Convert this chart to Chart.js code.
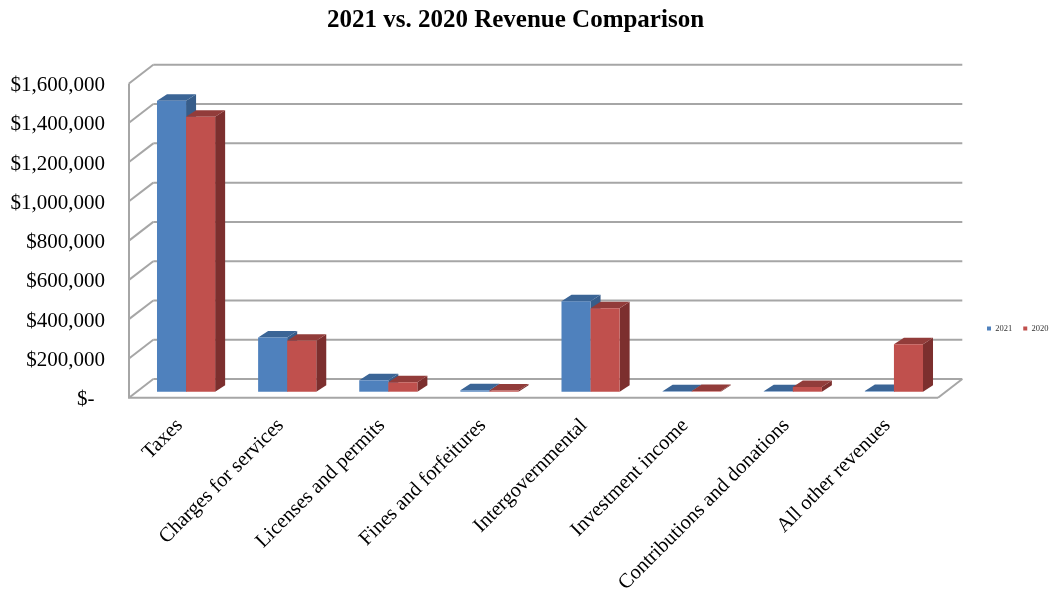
<!DOCTYPE html>
<html>
<head>
<meta charset="utf-8">
<title>2021 vs. 2020 Revenue Comparison</title>
<script src="https://cdn.jsdelivr.net/npm/chart.js@4"></script>
<style>
	body { margin: 0; background: #fff; }
	canvas { display: block; }
</style>
</head>
<body>
<canvas id="chart-revenue" width="1049" height="592"></canvas>
<script>
const categories = ["Taxes", "Charges for services", "Licenses and permits", "Fines and forfeitures", "Intergovernmental", "Investment income", "Contributions and donations", "All other revenues"];
const values2021 = [1482000, 276000, 58000, 7000, 460000, 2000, 2000, 3000];
const values2020 = [1400000, 259000, 48000, 6000, 425000, 3000, 24000, 242000];
const seriesNames = ["2021", "2020"];
const yTicksMax = 1600000;
const yTicksStep = 200000;

const FONT = "'Liberation Serif', 'Times New Roman', serif";
const GRID_COLOR = "#a6a6a6";

// fake 3D, all in pixels
const WALL_DX = 24.3, WALL_DY = 18.7;
const BAR_SHIFT_X = 6.5, BAR_SHIFT_Y = -6;
const BAR_DX = 10, BAR_DY = 6.5;
const SIDE_COLORS = ["#375d8a", "#7c2f2e"];
const TOP_COLORS = ["#3b6596", "#923c3a"];

function line(ctx, x1, y1, x2, y2)
{
	ctx.beginPath();
	ctx.moveTo(x1, y1);
	ctx.lineTo(x2, y2);
	ctx.stroke();
}

function poly(ctx, color, pts)
{
	ctx.fillStyle = color;
	ctx.beginPath();
	pts.forEach(function(p, i) { i ? ctx.lineTo(p[0], p[1]) : ctx.moveTo(p[0], p[1]); });
	ctx.closePath();
	ctx.fill();
}

const walls3d = {
	id: "walls3d",
	afterLayout: function(chart)
	{
		// title is centred a bit left of the page, legend sits as one row right of the plot
		chart.titleBlock.left = 0;
		chart.titleBlock.right = 1031;
		chart.titleBlock.top = 6;
		let w = chart.legend.right - chart.legend.left;
		let h = chart.legend.bottom - chart.legend.top;
		chart.legend.left = 976;
		chart.legend.right = 976 + w;
		chart.legend.top = 328 - h / 2;
		chart.legend.bottom = 328 + h / 2;
	},
	beforeDatasetsDraw: function(chart)
	{
		const ctx = chart.ctx;
		const area = chart.chartArea;
		const y = chart.scales.y;

		ctx.save();
		ctx.strokeStyle = GRID_COLOR;
		ctx.lineWidth = 2;
		y.ticks.forEach(function(t)
		{
			let py = y.getPixelForValue(t.value);
			line(ctx, area.left, py, area.left + WALL_DX, py - WALL_DY);
			line(ctx, area.left + WALL_DX, py - WALL_DY, area.right + WALL_DX, py - WALL_DY);
		});
		line(ctx, area.left, area.top, area.left, area.bottom);
		line(ctx, area.left - 1, area.bottom, area.right, area.bottom);
		line(ctx, area.right, area.bottom, area.right + WALL_DX, area.bottom - WALL_DY);

		// bars sit a little behind the front edge of the floor
		ctx.translate(BAR_SHIFT_X, BAR_SHIFT_Y);
		[0, 1].forEach(function(i)
		{
			let meta = chart.getDatasetMeta(i);
			meta.data.forEach(function(bar)
			{
				let l = bar.x - bar.width / 2, r = bar.x + bar.width / 2;
				poly(ctx, SIDE_COLORS[i], [[r, bar.y], [r + BAR_DX, bar.y - BAR_DY], [r + BAR_DX, bar.base - BAR_DY], [r, bar.base]]);
				poly(ctx, TOP_COLORS[i], [[l, bar.y], [l + BAR_DX, bar.y - BAR_DY], [r + BAR_DX, bar.y - BAR_DY], [r, bar.y]]);
			});
			meta.controller.draw();
		});
		ctx.restore();
	},
	beforeDatasetDraw: function()
	{
		return false;
	}
};

new Chart("chart-revenue", {
	type: "bar",
	data: {
		labels: categories,
		datasets: [
			{ label: seriesNames[0], data: values2021, backgroundColor: "#4f81bd", barPercentage: 1, categoryPercentage: 0.575 },
			{ label: seriesNames[1], data: values2020, backgroundColor: "#c0504d", barPercentage: 1, categoryPercentage: 0.575 }
		]
	},
	plugins: [walls3d],
	options: {
		responsive: false,
		animation: false,
		layout: { padding: { right: 111 } },
		plugins: {
			title: {
				display: true,
				text: "2021 vs. 2020 Revenue Comparison",
				color: "#000",
				font: { family: FONT, size: 25, weight: "bold" },
				padding: { top: 0, bottom: 24 }
			},
			legend: {
				position: "top",
				align: "start",
				labels: {
					boxWidth: 4,
					boxHeight: 4,
					padding: 11,
					color: "#333",
					font: { family: FONT, size: 8.5 }
				}
			},
			tooltip: { enabled: false }
		},
		scales: {
			x: {
				grid: { display: false },
				border: { display: false },
				afterFit: function(scale) { scale.height = 194.3; },
				ticks: {
					color: "#000",
					font: { family: FONT, size: 20.5 },
					minRotation: 45,
					maxRotation: 45,
					autoSkip: false,
					padding: 8
				}
			},
			y: {
				min: 0,
				max: yTicksMax,
				grid: { display: false, drawTicks: false },
				border: { display: false },
				afterFit: function(scale) { scale.width = 129; },
				ticks: {
					stepSize: yTicksStep,
					color: "#000",
					font: { family: FONT, size: 21 },
					padding: 24,
					labelOffset: 2,
					callback: function(v) { return v === 0 ? "$-  " : "$" + v.toLocaleString("en-US"); }
				}
			}
		}
	}
});
</script>
</body>
</html>
